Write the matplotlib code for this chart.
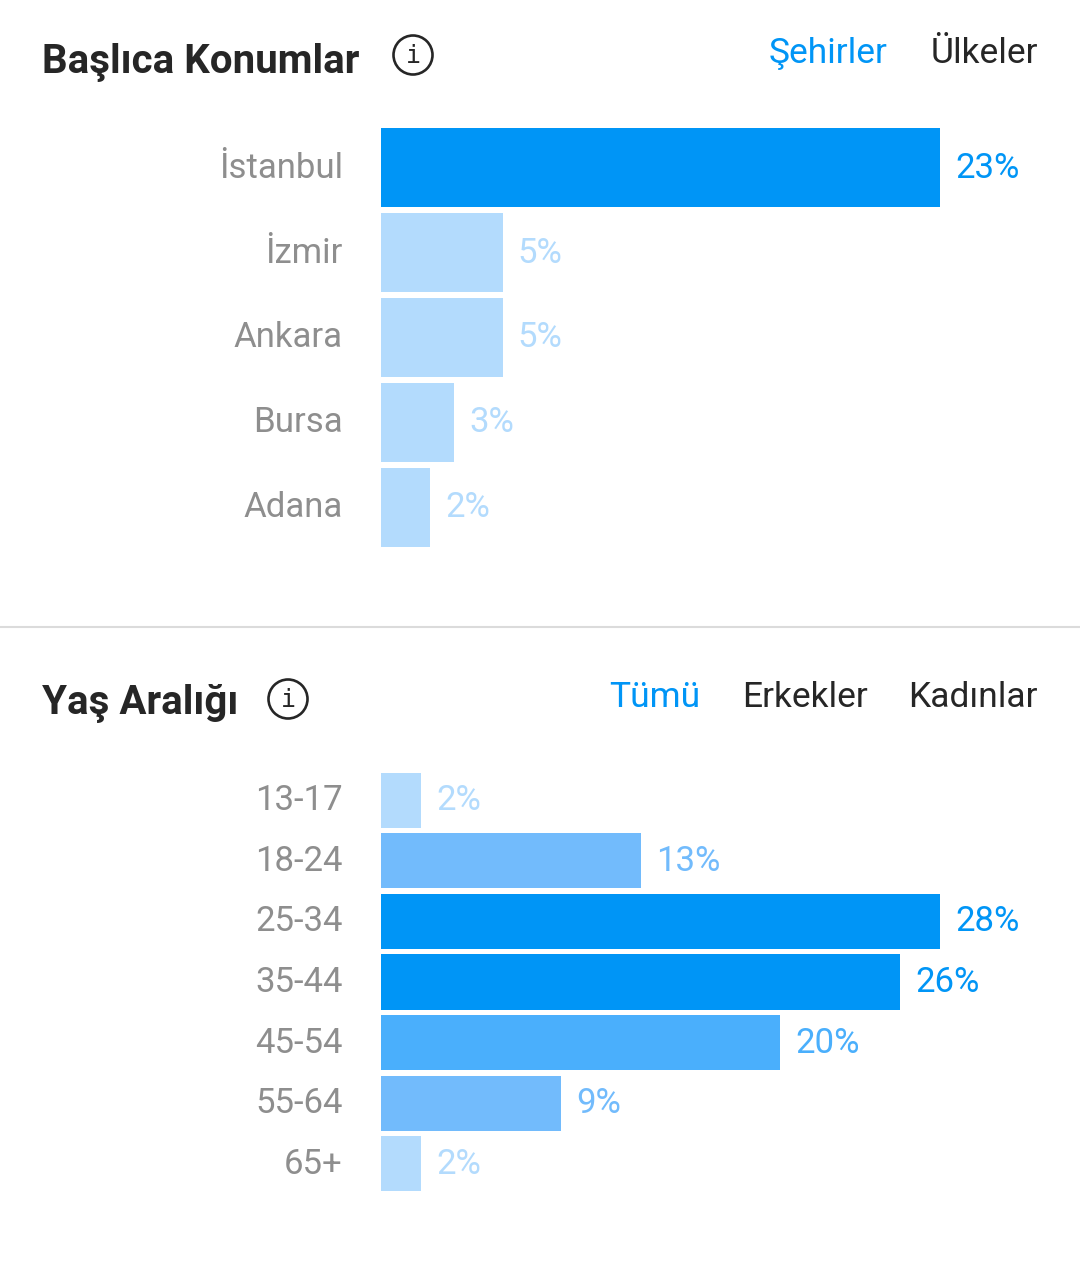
import matplotlib
matplotlib.use("Agg")
import matplotlib.pyplot as plt
from matplotlib.patches import Circle

plt.rcParams['font.family'] = ['Roboto', 'DejaVu Sans']

# data
cities = ["İstanbul", "İzmir", "Ankara", "Bursa", "Adana"]
city_pct = [23, 5, 5, 3, 2]
city_tabs = ["Şehirler", "Ülkeler"]

ages = ["13-17", "18-24", "25-34", "35-44", "45-54", "55-64", "65+"]
age_pct = [2, 13, 28, 26, 20, 9, 2]
age_tabs = ["Tümü", "Erkekler", "Kadınlar"]

# colours
DARK = "#0095f6"
MID = "#4aaffc"
LIGHT = "#72bbfc"
PALE = "#b3dbfd"
TEXT = "#262626"
GRAY = "#8e8e8e"

def shade(v, vmax):
    # colour steps by share of the largest bar
    r = v / vmax
    if r > 0.8:
        return DARK
    if r > 0.6:
        return MID
    if r > 0.25:
        return LIGHT
    return PALE

W, H = 1080, 1271
fig = plt.figure(figsize=(W / 100, H / 100), dpi=100)

# overlay in pixel coords for headers, icons, separator
ov = fig.add_axes([0, 0, 1, 1])
ov.set_xlim(0, W)
ov.set_ylim(H, 0)
ov.axis("off")

def info_icon(cx, cy):
    ov.add_patch(Circle((cx, cy), 19.5, fill=False, ec=TEXT, lw=1.9))
    ov.text(cx, cy + 1, "i", ha="center", va="center", fontsize=18,
            color=TEXT, family="DejaVu Sans Mono")

def bar_panel(top, bottom, labels, vals, bh, lab_colors=None):
    ax = fig.add_axes([381 / W, 1 - bottom / H, 559 / W, (bottom - top) / H])
    n = len(vals)
    cols = [shade(v, max(vals)) for v in vals]
    if lab_colors is not None:
        cols = lab_colors
    ax.barh(range(n), vals, height=bh, color=cols, edgecolor="none")
    ax.set_xlim(0, max(vals))
    ax.set_ylim(n - 0.5, -0.5)
    ax.set_xticks([])
    ax.set_yticks([])
    for s in ax.spines.values():
        s.set_visible(False)
    for i, v in enumerate(vals):
        ax.annotate(labels[i], (0, i), xytext=(-27.5, 2.2), textcoords="offset points",
                    ha="right", va="center_baseline", fontsize=25,
                    color=GRAY, annotation_clip=False)
        ax.annotate(f"{v}%", (v, i), xytext=(11, 2.2), textcoords="offset points",
                    ha="left", va="center_baseline", fontsize=25,
                    color=cols[i], annotation_clip=False)
    return ax

# top panel: locations
ov.text(42, 73, "Başlıca Konumlar", fontsize=29, fontweight="bold",
        color=TEXT, ha="left", va="baseline")
info_icon(413, 55)
ov.text(888, 63, city_tabs[0], fontsize=25.5, color=DARK, ha="right", va="baseline")
ov.text(1038, 63, city_tabs[1], fontsize=25.5, color=TEXT, ha="right", va="baseline")

city_cols = [DARK if v == max(city_pct) else PALE for v in city_pct]
bar_panel(125.5, 549.5, cities, city_pct, 0.93, city_cols)

# separator
ov.plot([0, W], [627, 627], color="#dbdbdb", lw=1.5)

# bottom panel: age ranges
ov.text(42, 714, "Yaş Aralığı", fontsize=29, fontweight="bold",
        color=TEXT, ha="left", va="baseline")
info_icon(288, 699)
ov.text(700, 707, age_tabs[0], fontsize=25.5, color=DARK, ha="right", va="baseline")
ov.text(868, 707, age_tabs[1], fontsize=25.5, color=TEXT, ha="right", va="baseline")
ov.text(1038, 707, age_tabs[2], fontsize=25.5, color=TEXT, ha="right", va="baseline")

bar_panel(770, 1194, ages, age_pct, 0.91)

fig.savefig("out.png", dpi=100, facecolor="white")
